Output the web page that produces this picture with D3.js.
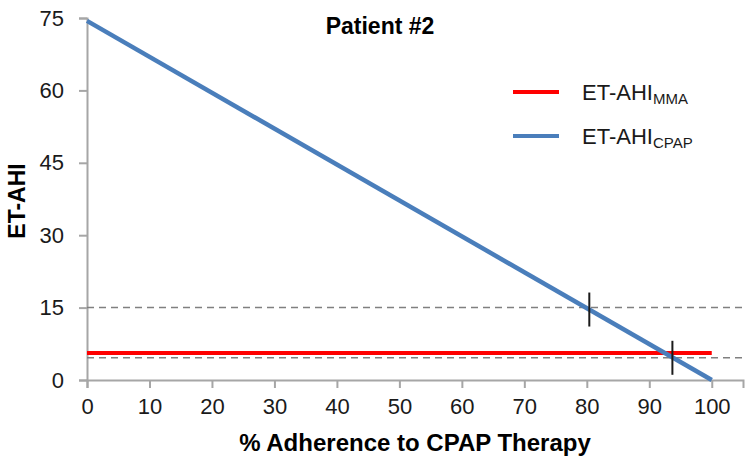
<!DOCTYPE html>
<html>
<head>
<meta charset="utf-8">
<script src="https://cdn.jsdelivr.net/npm/d3@7"></script>
<style>
  body { margin: 0; background: #fff; }
  text { font-family: "Liberation Sans", Arial, sans-serif; }
</style>
</head>
<body>
<div id="chart"></div>
<script>
// chart data
var xTicks = [0, 10, 20, 30, 40, 50, 60, 70, 80, 90, 100];
var yTicks = [0, 15, 30, 45, 60, 75];
var cpapLine = [{x: 0, y: 74.4}, {x: 100, y: 0}];
var mmaLine = [{x: 0, y: 5.6}, {x: 100, y: 5.6}];
var thresholds = [15, 4.6];
var markers = [{x: 80.4, y: 14.6}, {x: 93.7, y: 4.6}];
var legendItems = [
  {name: "ET-AHI", sub: "MMA", color: "#ff0000"},
  {name: "ET-AHI", sub: "CPAP", color: "#4a7ebb"}
];

// canvas
var margin = {top: 18, right: 7, bottom: 86, left: 87},
    width = 750 - margin.left - margin.right,
    height = 466 - margin.top - margin.bottom;

var root = d3.select("#chart")
  .append("svg")
    .attr("width", 750)
    .attr("height", 466);

var svg = root.append("g")
    .attr("transform", "translate(" + margin.left + "," + margin.top + ")");

// scales
var xScale = d3.scaleLinear().domain([0, 105]).range([0, width]);
var yScale = d3.scaleLinear().domain([0, 75]).range([height, 0]);

var xAxis = d3.axisBottom(xScale).tickValues(xTicks).tickSizeOuter(0).tickSize(8).tickPadding(10);
var yAxis = d3.axisLeft(yScale).tickValues(yTicks).tickSizeOuter(0).tickSize(8).tickPadding(15);

var gx = svg.append("g")
    .attr("transform", "translate(0," + height + ")")
    .call(xAxis);
var gy = svg.append("g").call(yAxis);

[gx, gy].forEach(function(g) {
  g.selectAll("path, line").attr("stroke", "#a6a6a6").attr("stroke-width", 2);
  g.selectAll("text")
    .attr("fill", "#1a1a1a")
    .style("font-size", "22px");
});

// dashed thresholds
svg.selectAll(".thr")
  .data(thresholds)
  .enter().append("line")
    .attr("x1", xScale(0))
    .attr("x2", xScale(105))
    .attr("y1", d => yScale(d))
    .attr("y2", d => yScale(d))
    .attr("stroke", "#808080")
    .attr("stroke-width", 1.5)
    .attr("stroke-dasharray", "7,5");

var line = d3.line().x(d => xScale(d.x)).y(d => yScale(d.y));

svg.append("path")
    .datum(mmaLine)
    .attr("d", line)
    .attr("fill", "none")
    .attr("stroke", "#ff0000")
    .attr("stroke-width", 4);

svg.append("path")
    .datum(cpapLine)
    .attr("d", line)
    .attr("fill", "none")
    .attr("stroke", "#4a7ebb")
    .attr("stroke-width", 4.5);

// markers
svg.selectAll(".mk")
  .data(markers)
  .enter().append("line")
    .attr("x1", d => xScale(d.x))
    .attr("x2", d => xScale(d.x))
    .attr("y1", d => yScale(d.y) - 17)
    .attr("y2", d => yScale(d.y) + 17)
    .attr("stroke", "#1a1a1a")
    .attr("stroke-width", 2);

// title and labels
root.append("text")
    .attr("x", 380)
    .attr("y", 34)
    .attr("text-anchor", "middle")
    .style("font-size", "23px")
    .style("font-weight", "bold")
    .text("Patient #2");

root.append("text")
    .attr("transform", "translate(25,201) rotate(-90)")
    .attr("text-anchor", "middle")
    .style("font-size", "23px")
    .style("font-weight", "bold")
    .text("ET-AHI");

root.append("text")
    .attr("x", 415)
    .attr("y", 451)
    .attr("text-anchor", "middle")
    .style("font-size", "24px")
    .style("font-weight", "bold")
    .text("% Adherence to CPAP Therapy");

// legend
var legend = root.selectAll(".lg")
  .data(legendItems)
  .enter().append("g")
    .attr("transform", (d, i) => "translate(513," + (92 + i * 44) + ")");

legend.append("line")
    .attr("x1", 0).attr("x2", 46)
    .attr("stroke", d => d.color)
    .attr("stroke-width", 4);

var lt = legend.append("text")
    .attr("x", 69)
    .attr("y", 8)
    .attr("fill", "#1a1a1a")
    .style("font-size", "22px");
lt.append("tspan").text(d => d.name);
lt.append("tspan")
    .attr("dy", 4)
    .style("font-size", "15px")
    .text(d => d.sub);
</script>
</body>
</html>
